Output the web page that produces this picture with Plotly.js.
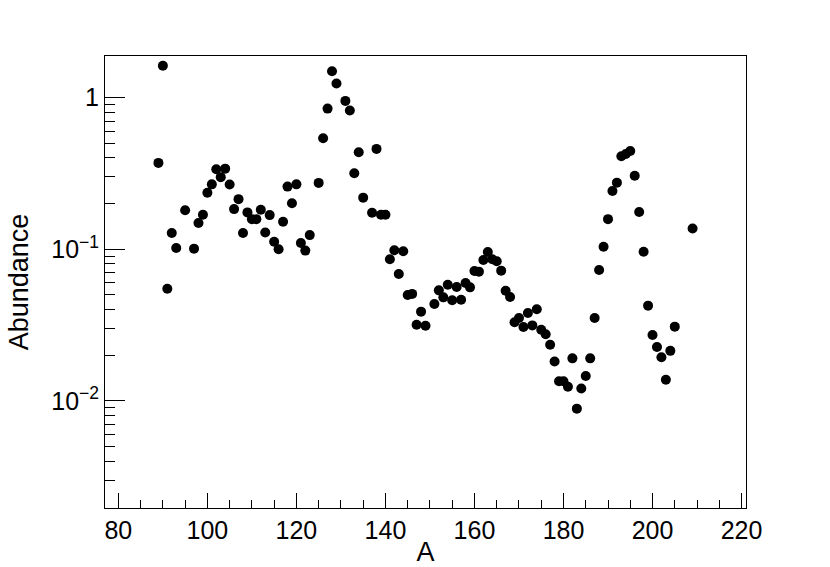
<!DOCTYPE html>
<html>
<head>
<meta charset="utf-8">
<script src="https://cdn.plot.ly/plotly-3.0.1.min.js"></script>
<style>
  html, body { margin: 0; padding: 0; background: #fff; }
  #plot { width: 830px; height: 567px; }
</style>
</head>
<body>
<div id="plot"></div>
<script>
"use strict";

// Mass number A and abundance.
const massA = [
    89, 90, 91, 92, 93, 95, 97, 98, 99, 100,
    101, 102, 103, 104, 105, 106, 107, 108, 109, 110,
    111, 112, 113, 114, 115, 116, 117, 118, 119, 120,
    121, 122, 123, 125, 126, 127, 128, 129, 131, 132,
    133, 134, 135, 137, 138, 139, 140, 141, 142, 143,
    144, 145, 146, 147, 148, 149, 151, 152, 153, 154,
    155, 156, 157, 158, 159, 160, 161, 162, 163, 164,
    165, 166, 167, 168, 169, 170, 171, 172, 173, 174,
    175, 176, 177, 178, 179, 180, 181, 182, 183, 184,
    185, 186, 187, 188, 189, 190, 191, 192, 193, 194,
    195, 196, 197, 198, 199, 200, 201, 202, 203, 204,
    205, 209
];
const abundance = [
    0.371, 1.62, 0.055, 0.128, 0.102, 0.181, 0.101, 0.149, 0.169, 0.236,
    0.268, 0.337, 0.299, 0.340, 0.267, 0.184, 0.214, 0.128, 0.175, 0.158,
    0.158, 0.182, 0.129, 0.168, 0.112, 0.100, 0.152, 0.259, 0.201, 0.268,
    0.110, 0.098, 0.124, 0.274, 0.540, 0.846, 1.49, 1.24, 0.951, 0.821,
    0.317, 0.436, 0.219, 0.174, 0.459, 0.169, 0.169, 0.086, 0.0985, 0.0687,
    0.097, 0.050, 0.0508, 0.0318, 0.0388, 0.0313, 0.0436, 0.0536, 0.0482, 0.0584,
    0.0461, 0.0564, 0.0465, 0.060, 0.0561, 0.0719, 0.0712, 0.0850, 0.096, 0.0859,
    0.0834, 0.0723, 0.0533, 0.0485, 0.0330, 0.0352, 0.0307, 0.0380, 0.0315, 0.0402,
    0.0295, 0.0275, 0.0235, 0.0182, 0.0135, 0.0135, 0.0124, 0.0191, 0.0089, 0.0121,
    0.0146, 0.0191, 0.0352, 0.0730, 0.104, 0.158, 0.242, 0.275, 0.411, 0.425,
    0.445, 0.305, 0.176, 0.0964, 0.0425, 0.0272, 0.0227, 0.0194, 0.0138, 0.0214,
    0.0309, 0.137
];

// Axis labels
const yTickVals = [0.01, 0.1, 1];
const yTickText = ["10<sup>\u22122</sup>", "10<sup>\u22121</sup>", "1"];

// minor log ticks 2..9 per decade
const yMinor = [];
for (let p = -3; p <= 0; p++) {
    for (let d = 2; d <= 9; d++) yMinor.push(d * Math.pow(10, p));
}

const FONT = "Liberation Sans, Arial, Helvetica, sans-serif";

const traces = [{
    x: massA, y: abundance,
    type: "scatter", mode: "markers",
    marker: { color: "#000", size: 10 },
    hoverinfo: "x+y",
}];

const layout = {
    width: 830, height: 567,
    margin: { l: 105, r: 84, t: 56, b: 59 },
    paper_bgcolor: "#fff",
    plot_bgcolor: "#fff",
    showlegend: false,
    font: { family: FONT, color: "#000", size: 25 },
    xaxis: {
        range: [77, 221],
        tickmode: "linear", tick0: 80, dtick: 20,
        ticks: "inside", ticklen: 15, tickwidth: 1, tickcolor: "#000",
        minor: { dtick: 5, tick0: 80, ticks: "inside", ticklen: 8, tickwidth: 1, tickcolor: "#000" },
        showgrid: false, zeroline: false,
        showline: true, mirror: true, linecolor: "#000", linewidth: 1,
        tickfont: { size: 25 },
        title: { text: "A", font: { size: 27 }, standoff: 10 },
    },
    yaxis: {
        type: "log",
        range: [Math.log10(0.00197), Math.log10(1.88)],
        tickmode: "array", tickvals: yTickVals, ticktext: yTickText,
        ticks: "inside", ticklen: 20, tickwidth: 1, tickcolor: "#000",
        minor: { tickmode: "array", tickvals: yMinor, ticks: "inside", ticklen: 10, tickwidth: 1, tickcolor: "#000" },
        showgrid: false, zeroline: false,
        showline: true, mirror: true, linecolor: "#000", linewidth: 1,
        tickfont: { size: 25 },
        title: { text: "Abundance", font: { size: 27 }, standoff: 14 },
    },
};

Plotly.newPlot("plot", traces, layout, { displayModeBar: false, responsive: false });
</script>
</body>
</html>
